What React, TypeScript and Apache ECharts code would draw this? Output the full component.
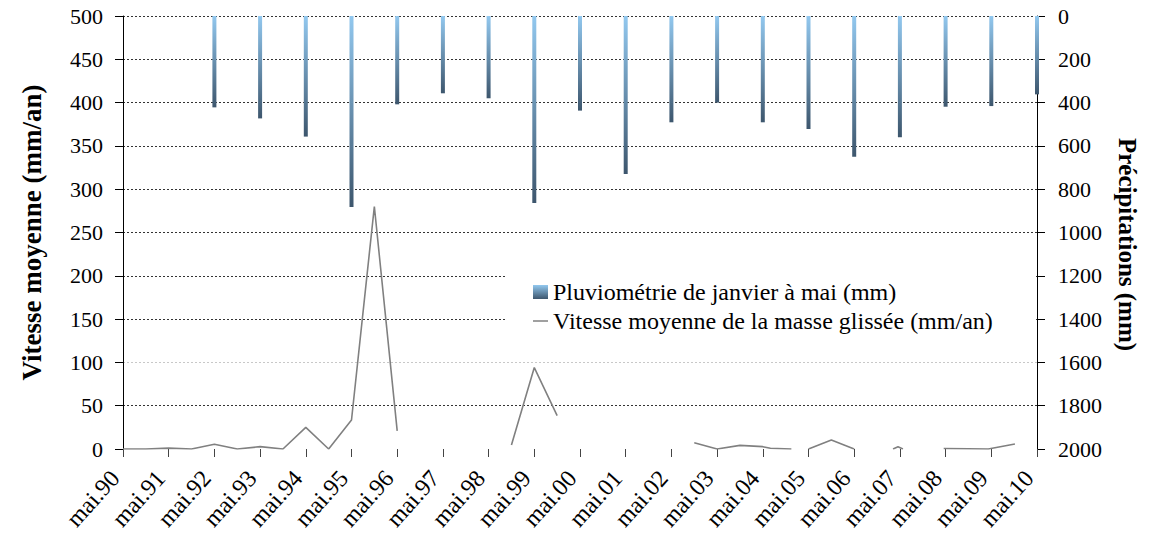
import React, { useEffect, useRef } from 'react';
import * as echarts from 'echarts';

// Tick labels of the time axis (one per year, May)
const tickLabels = [
  'mai.90', 'mai.91', 'mai.92', 'mai.93', 'mai.94', 'mai.95', 'mai.96', 'mai.97', 'mai.98', 'mai.99', 'mai.00',
  'mai.01', 'mai.02', 'mai.03', 'mai.04', 'mai.05', 'mai.06', 'mai.07', 'mai.08', 'mai.09', 'mai.10',
];

// Months elapsed since mai.90 for each rainfall bar
const rainMonths = [24, 36, 48, 60, 72, 84, 96, 108, 120, 132, 144, 156, 168, 180, 192, 204, 216, 228, 240];
// Rainfall January to May (mm)
const rainValues = [422, 473, 557, 882, 408, 357, 380, 864, 437, 730, 491, 400, 491, 522, 650, 560, 419, 416, 362];

// Months elapsed since mai.90 for each speed reading
const speedMonths = [
  0, 6, 12, 18, 24, 30, 36, 42, 48, 54, 60, 66, 72,
  87,
  102, 108, 114,
  132,
  150, 156, 162, 168, 170, 175.5,
  178,
  180, 186, 192,
  197,
  202.2, 203.5, 204.8,
  210,
  215.5, 222, 227.2, 234.2,
];
// Average speed of the sliding mass (mm/an); null = no measure
const speedValues = [
  0, 0, 1, 0, 5.4, 0, 2.7, 0, 25, 0, 33.5, 280, 21,
  null,
  4.6, 94, 38.5,
  null,
  7.3, 0, 4.2, 2.7, 0.8, 0,
  null,
  0, 10.5, 0,
  null,
  0, 2.7, 0,
  null,
  0.5, 0.3, 0, 5.8,
];

const rainName = 'Pluviométrie de janvier à mai (mm)';
const speedName = 'Vitesse moyenne de la masse glissée (mm/an)';

const FONT = 'Liberation Serif';

export default function App() {
  const ref = useRef<HTMLDivElement>(null);

  useEffect(() => {
    const chart = echarts.init(ref.current!, null, { renderer: 'svg' });
    const gridColors = ['rgba(0,0,0,0)', '#333', '#c8c8c8', '#333', '#333', '#333', '#333', '#333', '#333', '#333', '#333'];
    chart.setOption({
      animation: false,
      backgroundColor: '#ffffff',
      grid: { left: 123, right: 116, top: 16, bottom: 96, containLabel: false },
      graphic: [
        {
          type: 'rect',
          z: 3,
          silent: true,
          shape: { x: 505, y: 262, width: 531, height: 88 },
          style: { fill: '#ffffff' },
        },
      ],
      legend: {
        orient: 'vertical',
        left: 505,
        top: 262,
        z: 5,
        padding: [18, 10, 18, 28],
        itemWidth: 15,
        itemHeight: 14,
        itemGap: 5,
        textStyle: { fontFamily: FONT, fontSize: 24, lineHeight: 24, color: '#000' },
        data: [
          { name: rainName, icon: 'rect' },
          { name: speedName, icon: 'path://M0,0H20V2H0Z' },
        ],
      },
      xAxis: {
        type: 'value',
        min: 0,
        max: 240,
        interval: 12,
        axisLine: { show: false },
        axisTick: { show: true, length: 8, lineStyle: { color: '#444' } },
        splitLine: { show: false },
        axisLabel: {
          rotate: 48,
          margin: 16,
          padding: [0, 12, 0, 0],
          fontFamily: FONT,
          fontSize: 24,
          color: '#000',
          formatter: (v: number) => tickLabels[Math.round(v / 12)] ?? '',
        },
      },
      yAxis: [
        {
          type: 'value',
          position: 'left',
          min: 0,
          max: 500,
          interval: 50,
          axisLine: { show: true, lineStyle: { color: '#000' } },
          axisTick: { show: true, length: 8, lineStyle: { color: '#000' } },
          axisLabel: { fontFamily: FONT, fontSize: 22, color: '#000', margin: 20 },
          splitLine: { show: true, lineStyle: { color: gridColors, type: [2, 2], width: 1 } },
          name: 'Vitesse moyenne (mm/an)',
          nameLocation: 'middle',
          nameRotate: 90,
          nameGap: 78,
          nameTextStyle: { fontFamily: FONT, fontSize: 27, fontWeight: 'bold', color: '#000' },
        },
        {
          type: 'value',
          position: 'right',
          min: 0,
          max: 2000,
          interval: 200,
          inverse: true,
          axisLine: { show: true, lineStyle: { color: '#000' } },
          axisTick: { show: true, length: 8, lineStyle: { color: '#000' } },
          axisLabel: {
            fontFamily: FONT,
            fontSize: 22,
            color: '#000',
            margin: 21,
            formatter: (v: number) => String(v),
          },
          splitLine: { show: false },
          name: 'Précipitations (mm)',
          nameLocation: 'middle',
          nameRotate: -90,
          nameGap: 78,
          nameTextStyle: {
            fontFamily: FONT,
            fontSize: 25,
            fontWeight: 'bold',
            color: '#000',
            padding: [0, 0, 0, 24],
          },
        },
      ],
      series: [
        {
          name: rainName,
          type: 'bar',
          yAxisIndex: 1,
          barWidth: 4,
          itemStyle: {
            color: new echarts.graphic.LinearGradient(0, 0, 0, 1, [
              { offset: 0, color: '#92C8EF' },
              { offset: 1, color: '#3D566D' },
            ]),
          },
          data: rainMonths.map((m, i) => [m, rainValues[i]]),
        },
        {
          name: speedName,
          type: 'line',
          yAxisIndex: 0,
          symbol: 'none',
          connectNulls: false,
          lineStyle: { color: '#808080', width: 1.6 },
          itemStyle: { color: '#808080' },
          data: speedMonths.map((m, i) => [m, speedValues[i]]),
        },
      ],
    });
    return () => chart.dispose();
  }, []);

  return (
    <div
      ref={ref}
      style={{ position: 'fixed', left: 0, top: 0, width: 1153, height: 545, background: '#fff' }}
    />
  );
}
